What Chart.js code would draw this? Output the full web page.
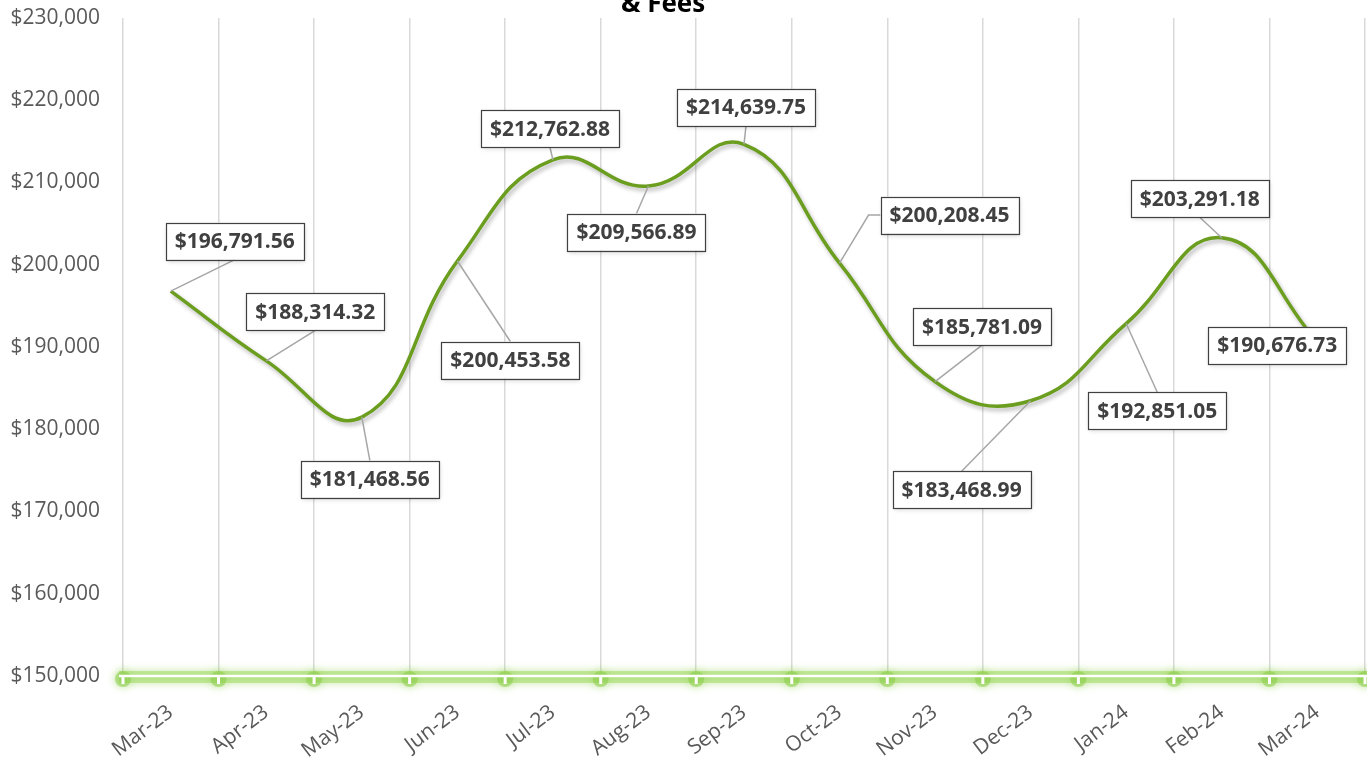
<!DOCTYPE html>
<html>
<head>
<meta charset="utf-8">
<script src="https://cdn.jsdelivr.net/npm/chart.js@4/dist/chart.umd.min.js"></script>
<style>
  html, body { margin: 0; padding: 0; background: #ffffff; overflow: hidden; }
  canvas { display: block; }
</style>
</head>
<body>
<canvas id="c" width="1367" height="757"></canvas>
<script>
// ---- data ----
const categories = ['Mar-23', 'Apr-23', 'May-23', 'Jun-23', 'Jul-23', 'Aug-23', 'Sep-23',
                    'Oct-23', 'Nov-23', 'Dec-23', 'Jan-24', 'Feb-24', 'Mar-24'];
const revenue = [196791.56, 188314.32, 181468.56, 200453.58, 212762.88, 209566.89, 214639.75,
                 200208.45, 185781.09, 183468.99, 192851.05, 203291.18, 190676.73];
const yMin = 150000;
const yMax = 230000;
const yStep = 10000;
const titleText = '& Fees';

// ---- label placement (pixel offsets of each data label box from its point) ----
const labelDX = [64, 49, 8, 53, -3, -12, 2, 110, 47, -69, 31, -22, -40];
const labelDY = [-50, -49, 62, 99, -31, 46, -37, -48, -55, 89, 87, -39, 4];

const money = v => '$' + v.toLocaleString('en-US', { minimumFractionDigits: 2, maximumFractionDigits: 2 });
const moneyInt = v => '$' + v.toLocaleString('en-US');

const lineShadow = {
  id: 'lineShadow',
  beforeDatasetDraw(chart) {
    const ctx = chart.ctx;
    ctx.save();
    ctx.shadowColor = 'rgba(0,0,0,0.28)';
    ctx.shadowBlur = 4;
    ctx.shadowOffsetX = 2;
    ctx.shadowOffsetY = 3;
  },
  afterDatasetDraw(chart) {
    chart.ctx.restore();
  }
};

const glowAxis = {
  id: 'glowAxis',
  beforeDatasetsDraw(chart) {
    const ctx = chart.ctx;
    const area = chart.chartArea;
    const y = area.bottom;
    const n = categories.length;
    const step = (area.right - area.left) / n;
    ctx.save();
    ctx.shadowColor = 'rgba(146,208,80,0.9)';
    ctx.shadowBlur = 8;
    ctx.strokeStyle = 'rgba(160,218,100,0.55)';
    ctx.lineWidth = 12;
    ctx.beginPath();
    ctx.moveTo(area.left - 4, y + 1);
    ctx.lineTo(area.right + 4, y + 1);
    ctx.stroke();
    ctx.fillStyle = 'rgba(140,205,75,0.55)';
    for (let i = 0; i <= n; i++) {
      const x = area.left + i * step;
      ctx.beginPath();
      ctx.arc(x, y + 3, 8, 0, Math.PI * 2);
      ctx.fill();
    }
    ctx.shadowBlur = 0;
    ctx.shadowColor = 'transparent';
    ctx.strokeStyle = '#ffffff';
    ctx.lineWidth = 2.5;
    ctx.beginPath();
    ctx.moveTo(area.left - 4, y);
    ctx.lineTo(area.right + 4, y);
    ctx.stroke();
    ctx.lineWidth = 3;
    for (let i = 0; i <= n; i++) {
      const x = area.left + i * step;
      ctx.beginPath();
      ctx.moveTo(x, y - 1);
      ctx.lineTo(x, y + 8);
      ctx.stroke();
    }
    ctx.restore();
  }
};

const dataLabels = {
  id: 'dataLabels',
  afterDatasetsDraw(chart) {
    const ctx = chart.ctx;
    const meta = chart.getDatasetMeta(0);
    ctx.save();
    ctx.font = 'bold 21px "Open Sans", "Noto Sans", sans-serif';
    const boxes = meta.data.map((pt, i) => {
      const text = money(revenue[i]);
      const w = Math.round(ctx.measureText(text).width) + 18;
      const h = 37;
      const cx = pt.x + labelDX[i];
      const cy = pt.y + labelDY[i];
      return { text, px: pt.x, py: pt.y, cx, cy, w, h,
               l: cx - w / 2, r: cx + w / 2, t: cy - h / 2, b: cy + h / 2 };
    });
    ctx.strokeStyle = '#a6a6a6';
    ctx.lineWidth = 1.5;
    boxes.forEach(bx => {
      const inside = bx.px >= bx.l && bx.px <= bx.r && bx.py >= bx.t && bx.py <= bx.b;
      if (inside) return;
      const dx = Math.abs(bx.px - bx.cx) - bx.w / 2;
      const dy = Math.abs(bx.py - bx.cy) - bx.h / 2;
      ctx.beginPath();
      ctx.moveTo(bx.px, bx.py);
      if (dy >= dx) {
        ctx.lineTo(bx.cx, bx.py < bx.cy ? bx.t : bx.b);
      } else {
        const sx = bx.px < bx.l ? bx.l : bx.r;
        const ex = bx.px < bx.l ? sx - 12 : sx + 12;
        ctx.lineTo(ex, bx.cy);
        ctx.lineTo(sx, bx.cy);
      }
      ctx.stroke();
    });
    boxes.forEach(bx => {
      ctx.save();
      ctx.shadowColor = 'rgba(0,0,0,0.18)';
      ctx.shadowBlur = 5;
      ctx.shadowOffsetX = 1;
      ctx.shadowOffsetY = 2;
      ctx.fillStyle = '#ffffff';
      ctx.fillRect(bx.l, bx.t, bx.w, bx.h);
      ctx.restore();
      ctx.strokeStyle = '#404040';
      ctx.lineWidth = 1.2;
      ctx.strokeRect(Math.round(bx.l) + 0.5, Math.round(bx.t) + 0.5, Math.round(bx.w), Math.round(bx.h));
      ctx.fillStyle = '#404040';
      ctx.textAlign = 'center';
      ctx.textBaseline = 'middle';
      ctx.fillText(bx.text, bx.cx, bx.cy + 1);
    });
    ctx.restore();
  }
};

const topTitle = {
  id: 'topTitle',
  afterDraw(chart) {
    const ctx = chart.ctx;
    ctx.save();
    ctx.font = 'bold 26px "Open Sans", "Noto Sans", sans-serif';
    ctx.fillStyle = '#000000';
    ctx.textAlign = 'center';
    ctx.textBaseline = 'alphabetic';
    ctx.fillText(titleText, 663, 12);
    ctx.restore();
  }
};

new Chart(document.getElementById('c'), {
  type: 'line',
  data: {
    labels: categories,
    datasets: [{
      data: revenue,
      borderColor: '#6B9E1F',
      borderWidth: 3.5,
      tension: 0.45,
      pointRadius: 0,
      pointHoverRadius: 0,
      fill: false
    }]
  },
  options: {
    responsive: false,
    devicePixelRatio: 1,
    animation: false,
    events: [],
    layout: { padding: { top: 18, right: 2, left: 0, bottom: 0 } },
    plugins: { legend: { display: false }, tooltip: { enabled: false }, title: { display: false } },
    scales: {
      x: {
        offset: true,
        grid: { offset: true, color: '#d9d9d9', lineWidth: 1.5, drawTicks: false },
        border: { display: false },
        ticks: {
          color: '#595959',
          font: { family: '"Open Sans", "Noto Sans", sans-serif', size: 21 },
          minRotation: 37, maxRotation: 37,
          padding: 24, autoSkip: false
        },
        afterFit(s) { s.height = 81; s.paddingLeft = 0; s.paddingRight = 0; }
      },
      y: {
        min: yMin, max: yMax,
        grid: { display: false, drawTicks: false },
        border: { display: false },
        ticks: {
          stepSize: yStep,
          color: '#595959',
          font: { family: '"Open Sans", "Noto Sans", sans-serif', size: 21 },
          padding: 23,
          callback: v => moneyInt(v)
        },
        afterFit(s) { s.width = 123; s.paddingTop = 0; s.paddingBottom = 0; }
      }
    }
  },
  plugins: [glowAxis, lineShadow, dataLabels, topTitle]
});
</script>
</body>
</html>
